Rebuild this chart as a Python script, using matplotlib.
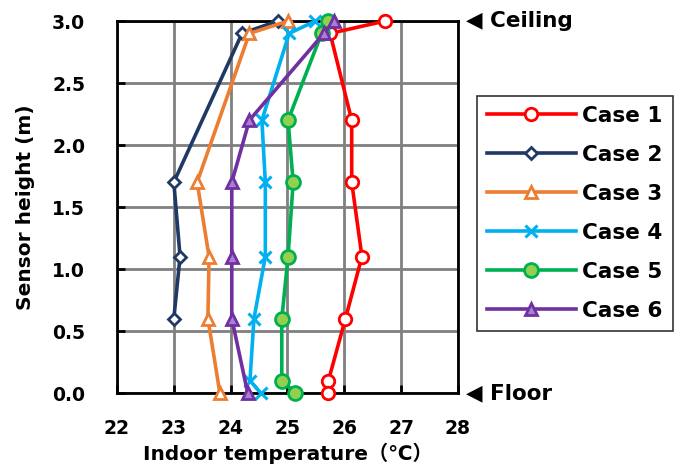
import matplotlib
matplotlib.use("Agg")
import matplotlib.pyplot as plt

plt.rcParams["font.family"] = ["DejaVu Sans", "Noto Sans CJK JP"]
plt.rcParams["font.weight"] = "bold"

# sensor heights (m) and temperatures (degC) per case
h1 = [3.0, 2.9, 2.2, 1.7, 1.1, 0.6, 0.1, 0.0]
t1 = [26.72, 25.75, 26.13, 26.13, 26.31, 26.02, 25.72, 25.72]
h2 = [3.0, 2.9, 1.7, 1.1, 0.6]
t2 = [24.83, 24.20, 23.00, 23.11, 23.00]
h3 = [3.0, 2.9, 1.7, 1.1, 0.6, 0.0]
t3 = [25.01, 24.33, 23.41, 23.62, 23.60, 23.81]
h4 = [3.0, 2.9, 2.2, 1.7, 1.1, 0.6, 0.1, 0.0]
t4 = [25.49, 25.03, 24.55, 24.61, 24.61, 24.41, 24.34, 24.53]
h5 = [3.0, 2.9, 2.2, 1.7, 1.1, 0.6, 0.1, 0.0]
t5 = [25.72, 25.60, 25.01, 25.10, 25.01, 24.90, 24.90, 25.14]
h6 = [3.0, 2.9, 2.2, 1.7, 1.1, 0.6, 0.0]
t6 = [25.82, 25.64, 24.33, 24.02, 24.02, 24.02, 24.30]

labels = ["Case 1", "Case 2", "Case 3", "Case 4", "Case 5", "Case 6"]
x_ticks = [22, 23, 24, 25, 26, 27, 28]
y_ticks = [0.0, 0.5, 1.0, 1.5, 2.0, 2.5, 3.0]

styles = [
    dict(color="#FF0000", marker="o", mfc="white", mec="#FF0000", ms=9),
    dict(color="#1F3864", marker="D", mfc="white", mec="#1F3864", ms=6),
    dict(color="#ED7D31", marker="^", mfc="white", mec="#ED7D31", ms=9),
    dict(color="#00B0F0", marker="x", mfc="#00B0F0", mec="#00B0F0", ms=8, mew=2.2),
    dict(color="#00B050", marker="o", mfc="#92D050", mec="#00B050", ms=10),
    dict(color="#7030A0", marker="^", mfc="#A77FD6", mec="#7030A0", ms=9),
]

fig = plt.figure(figsize=(6.75, 4.7), dpi=100)
ax = fig.add_axes([0.1733, 0.1638, 0.5052, 0.7915])

series = [(t1, h1), (t2, h2), (t3, h3), (t4, h4), (t5, h5), (t6, h6)]
for (t, h), lab, st in zip(series, labels, styles):
    st = dict(st)
    st.setdefault("mew", 2.0)
    ax.plot(t, h, lw=2.6, label=lab, clip_on=False, zorder=3, **st)

ax.set_xlim(22, 28)
ax.set_ylim(0, 3.0)
ax.set_xticks(x_ticks)
ax.set_yticks(y_ticks)
ax.set_yticklabels([f"{v:.1f}" for v in y_ticks])
ax.grid(True, color="#808080", lw=2.0)
ax.set_axisbelow(True)
for s in ax.spines.values():
    s.set_linewidth(2.0)
ax.tick_params(direction="in", length=6, width=2.0, labelsize=13.5)
ax.tick_params(axis="x", pad=19)
ax.tick_params(axis="y", pad=23)
for lab in ax.get_xticklabels() + ax.get_yticklabels():
    lab.set_fontweight("bold")

ax.set_xlabel("Indoor temperature（℃）", fontsize=14.5, fontweight="bold", labelpad=3)
ax.set_ylabel("Sensor height (m)", fontsize=14.5, fontweight="bold", labelpad=12)

ax.annotate("◀ Ceiling", xy=(1.0, 3.0), xycoords=("axes fraction", "data"),
            xytext=(6, 0), textcoords="offset points", va="center", ha="left",
            fontsize=15.5, fontweight="bold", annotation_clip=False)
ax.annotate("◀ Floor", xy=(1.0, 0.0), xycoords=("axes fraction", "data"),
            xytext=(6, 0), textcoords="offset points", va="center", ha="left",
            fontsize=15.5, fontweight="bold", annotation_clip=False)

leg = fig.legend(loc="upper left", bbox_to_anchor=(0.707, 0.796), fontsize=15.5,
                 frameon=True, fancybox=False, edgecolor="black", borderaxespad=0,
                 handlelength=4.1, handletextpad=0.3, borderpad=0.47,
                 labelspacing=0.88)
leg.get_frame().set_linewidth(1.2)

fig.savefig("out.png", dpi=100)
